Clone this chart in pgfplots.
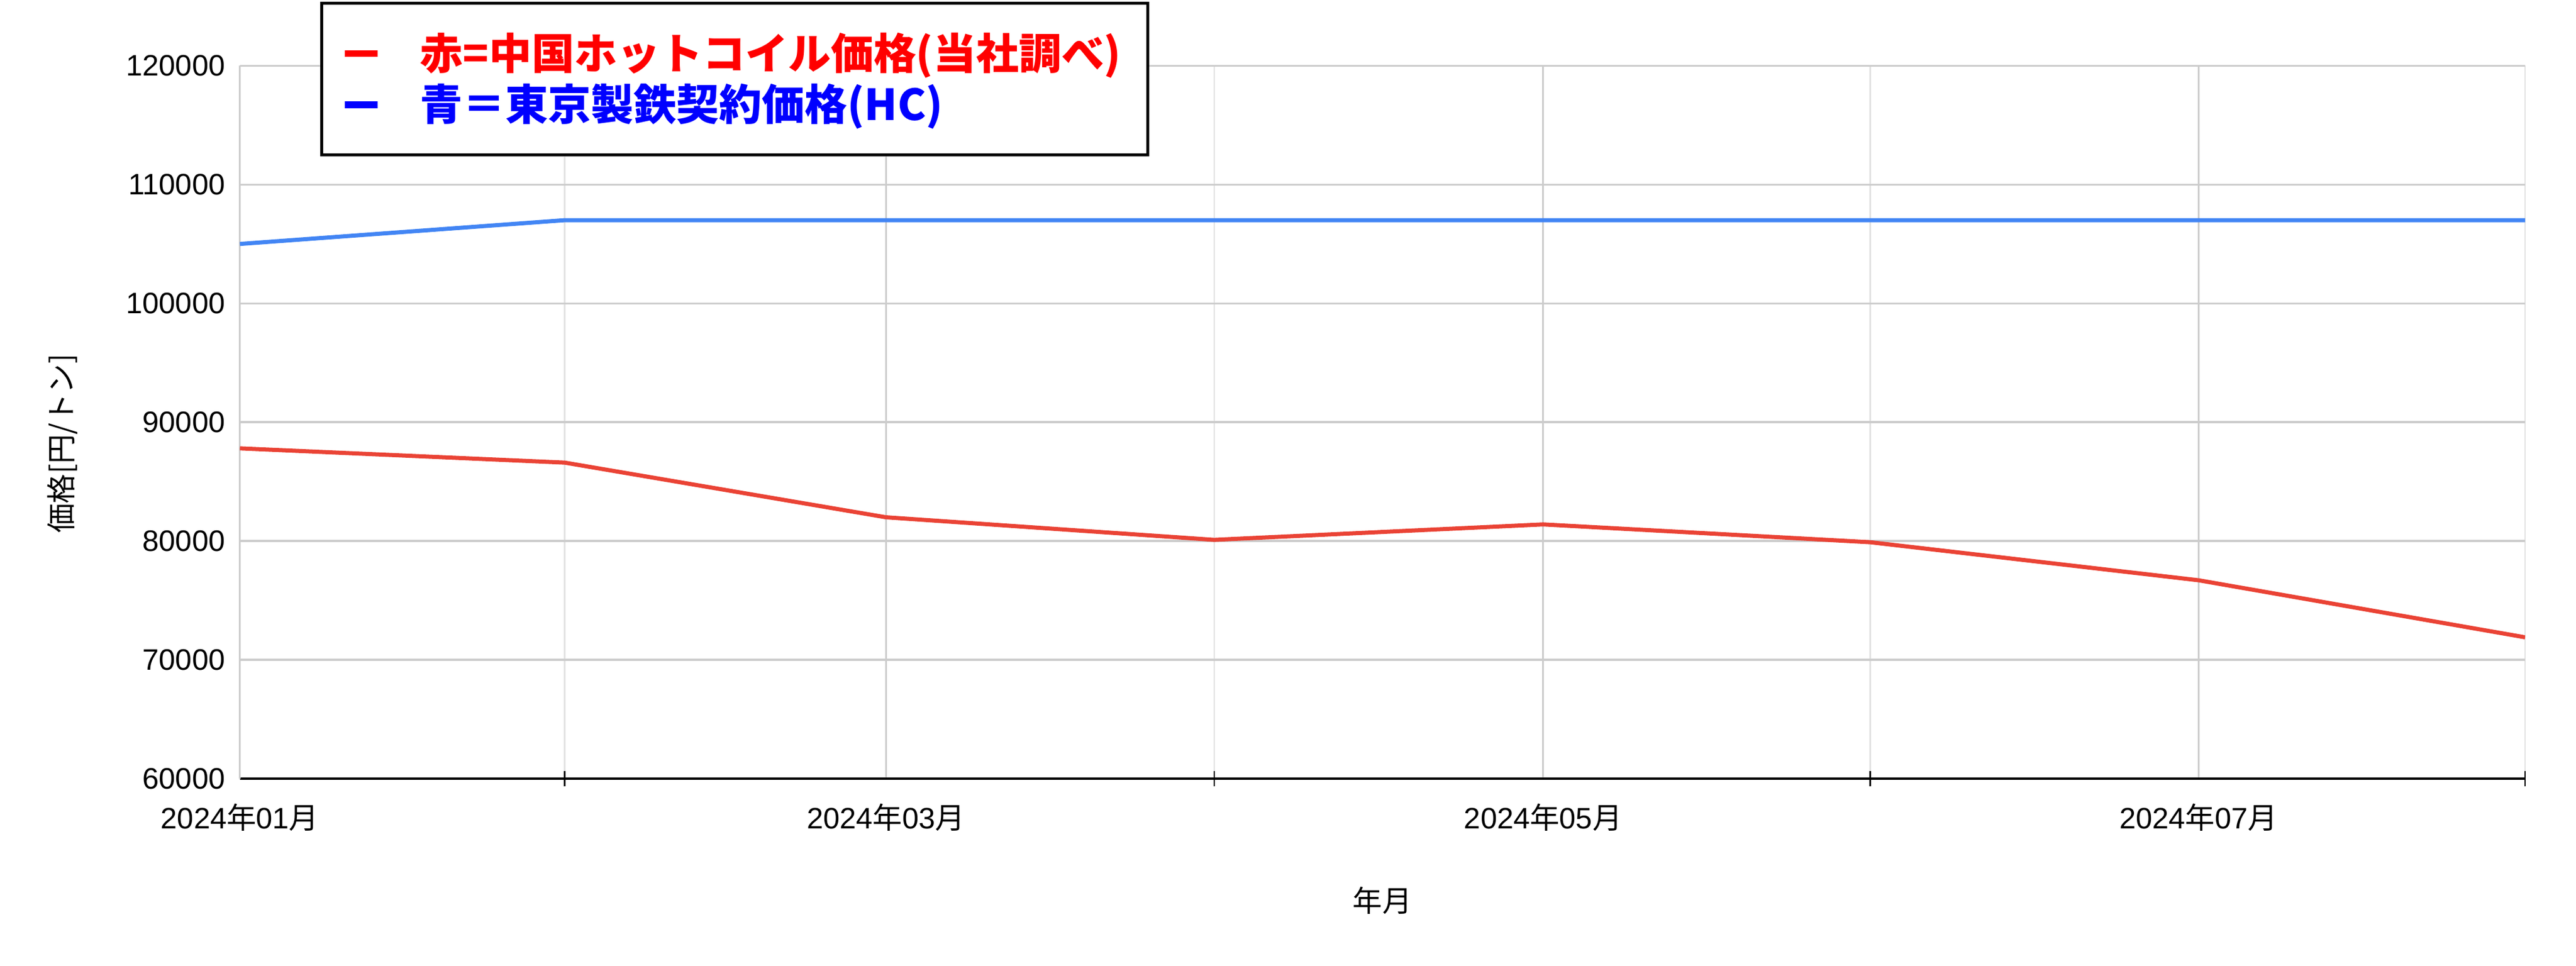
\documentclass[border=0pt]{standalone}
\usepackage{fontspec}
\setmainfont{Liberation Sans}
\newfontfamily\cjk{Noto Sans CJK JP}
\usepackage{pgfplots}
\pgfplotsset{compat=1.18}
\definecolor{lred}{HTML}{EA4335}
\definecolor{lblue}{HTML}{4285F4}
\definecolor{gridc}{HTML}{CCCCCC}
\definecolor{gridm}{HTML}{E2E2E2}
\newcommand{\ym}[2]{#1{\cjk 年}#2{\cjk 月}}
\begin{document}
\begin{tikzpicture}
\useasboundingbox (-73pt,-57pt) rectangle (711pt,237pt);
\begin{axis}[
  scale only axis, width=695.5pt, height=217pt,
  xmin=0, xmax=3898, ymin=60000, ymax=120000,
  ytick={60000,70000,...,120000},
  scaled y ticks=false,
  yticklabel={\pgfmathprintnumber[fixed,precision=0,1000 sep={}]{\tick}},
  xtick={0,1102,2223,3341},
  xticklabels={\ym{2024}{01},\ym{2024}{03},\ym{2024}{05},\ym{2024}{07}},
  minor xtick={554,1662,2781,3898},
  major tick length=0pt,
  minor tick length=4.75pt,
  tick align=center,
  minor tick style={black, line width=0.5pt},
  grid=both,
  major grid style={gridc, line width=0.6pt},
  minor grid style={gridm, line width=0.5pt},
  axis lines*=left,
  x axis line style={black, line width=0.75pt},
  y axis line style={gridc, line width=0.6pt},
  /pgf/number format/assume math mode=true,
  /pgf/number format/1000 sep={},
  ticklabel style={font=\fontsize{9}{11}\selectfont},
  xticklabel style={yshift=-4pt},
  yticklabel style={xshift=-1pt},
  ylabel={\cjk 価格[円/トン]},
  ylabel style={at={(axis description cs:-0.0776,0.47)}, anchor=center, font=\fontsize{9}{11}\selectfont},
  xlabel={\cjk 年月},
  xlabel style={at={(axis description cs:0.5,-0.1705)}, anchor=center, font=\fontsize{9}{11}\selectfont},
  legend image code/.code={\draw[#1] (0pt,0pt) -- (10pt,0pt);},
  legend style={at={(axis description cs:0.0352,1.0899)}, anchor=north west,
    draw=black, line width=0.9pt, inner xsep=6pt, inner ysep=7.5pt,
    column sep=10pt, row sep=0pt,
    nodes={inner ysep=1.5pt},
    font=\cjk\bfseries\fontsize{13}{15}\selectfont,
    cells={anchor=west}},
]
\addplot[lblue, line width=1.25pt, forget plot] coordinates {
  (0,105000) (554,107000) (1102,107000) (1662,107000) (2223,107000) (2781,107000) (3341,107000) (3898,107000)};
\addplot[lred, line width=1.25pt, forget plot] coordinates {
  (0,87800) (554,86600) (1102,82000) (1662,80100) (2223,81400) (2781,79900) (3341,76700) (3898,71900)};
\addlegendimage{color=red, line width=2pt}
\addlegendentry{\textcolor{red}{赤=中国ホットコイル価格(当社調べ)}}
\addlegendimage{color=blue, line width=2pt}
\addlegendentry{\textcolor{blue}{青＝東京製鉄契約価格(HC)}}
\end{axis}
\end{tikzpicture}
\end{document}
